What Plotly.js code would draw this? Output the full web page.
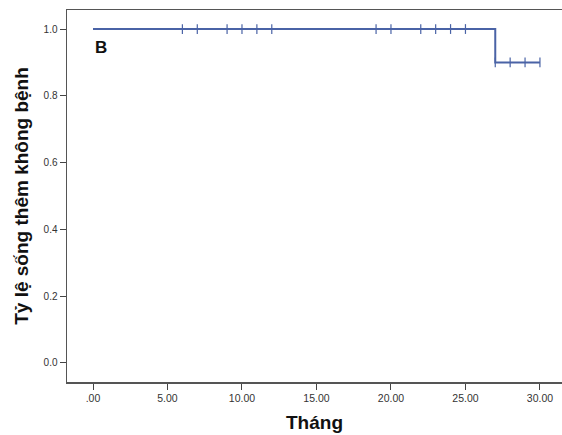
<!DOCTYPE html>
<html><head><meta charset="utf-8">
<script src="https://cdn.plot.ly/plotly-3.0.1.min.js"></script>
<style>body{margin:0;background:#fff}#c{width:562px;height:435px}</style>
</head><body><div id="c"></div>
<script>
// Survival curve (step)
const stepTime = [0, 27, 30];
const stepSurv = [1.0, 0.9, 0.9];
// Censored observations
const censorTime = [6, 7, 9, 10, 11, 12, 19, 20, 22, 23, 24, 25, 27, 28, 29, 30];
const censorSurv = [1.0, 1.0, 1.0, 1.0, 1.0, 1.0, 1.0, 1.0, 1.0, 1.0, 1.0, 1.0, 0.9, 0.9, 0.9, 0.9];
const xTicks = [0, 5, 10, 15, 20, 25, 30];
const xTickText = ['.00', '5.00', '10.00', '15.00', '20.00', '25.00', '30.00'];
const yTicks = [0, 0.2, 0.4, 0.6, 0.8, 1.0];
const yTickText = ['0.0', '0.2', '0.4', '0.6', '0.8', '1.0'];

const col = '#4a63a6';
const data = [
  {x: stepTime, y: stepSurv, type: 'scatter', mode: 'lines', line: {shape: 'hv', color: col, width: 2}, hoverinfo: 'skip'},
  {x: censorTime, y: censorSurv, type: 'scatter', mode: 'markers',
   marker: {symbol: 'line-ns', size: 7, line: {color: col, width: 1.2}}, hoverinfo: 'skip'}
];
const layout = {
  width: 562, height: 435,
  margin: {l: 67, r: 0, t: 10, b: 53},
  paper_bgcolor: '#fff', plot_bgcolor: '#fff',
  showlegend: false,
  font: {family: 'Arial, Liberation Sans, sans-serif', color: '#333'},
  xaxis: {
    range: [-1.745, 31.48], showgrid: false, zeroline: false,
    tickvals: xTicks, ticktext: xTickText, ticks: 'outside', ticklen: 6, tickcolor: '#444', tickwidth: 1,
    showline: true, linecolor: '#555', linewidth: 1.5, mirror: true,
    tickfont: {size: 10.5, color: '#333'},
    title: {text: 'Tháng', font: {size: 19, color: '#111', weight: 'bold'}, standoff: 12}
  },
  yaxis: {
    range: [-0.057, 1.057], showgrid: false, zeroline: false,
    tickvals: yTicks, ticktext: yTickText, ticks: 'outside', ticklen: 6, tickcolor: '#444', tickwidth: 1,
    showline: true, linecolor: '#555', linewidth: 1.5,
    tickfont: {size: 10, color: '#333'},
    title: {text: 'Tỷ lệ sống thêm không bệnh', font: {size: 19, color: '#111', weight: 'bold'}, standoff: 10}
  },
  annotations: [{
    xref: 'x', yref: 'y', x: 0, y: 0.945, xanchor: 'left', yanchor: 'middle',
    text: '<b>B</b>', showarrow: false, font: {size: 17, color: '#111'}
  }]
};
Plotly.newPlot('c', data, layout, {staticPlot: true});
</script></body></html>
